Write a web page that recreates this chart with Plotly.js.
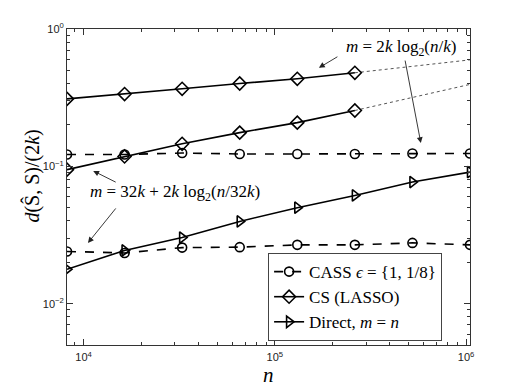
<!DOCTYPE html>
<html>
<head>
<meta charset="utf-8">
<script src="https://cdn.plot.ly/plotly-3.0.1.min.js"></script>
<style>
  html, body { margin: 0; padding: 0; background: #fff; }
  #chart { width: 518px; height: 388px; }
</style>
</head>
<body>
<div id="chart"></div>
<script>
// problem sizes n = 2^13 ... 2^20
const n = [8192, 16384, 32768, 65536, 131072, 262144, 524288, 1048576];
const nCS = n.slice(0, 6);
const nExt = [262144, 1048576];

// CASS, eps = 1 (upper) and eps = 1/8 (lower)
const cassHigh = [0.122, 0.122, 0.125, 0.123, 0.123, 0.123, 0.124, 0.124];
const cassLow = [0.0240, 0.0234, 0.0256, 0.0258, 0.0268, 0.0268, 0.0277, 0.0268];

// CS (LASSO), m = 2k log2(n/k) (upper) and m = 32k + 2k log2(n/32k) (lower)
const csHigh = [0.310, 0.336, 0.367, 0.401, 0.434, 0.480];
const csLow = [0.0946, 0.118, 0.146, 0.176, 0.208, 0.255];
// dotted extrapolation of the CS curves
const csHighExt = [0.480, 0.596];
const csLowExt = [0.255, 0.395];

// Direct, m = n
const direct = [0.0178, 0.0244, 0.0303, 0.0397, 0.0500, 0.0614, 0.0768, 0.0908];

// axis ticks
const xTickVals = [1e4, 1e5, 1e6];
const xTickText = ['10<sup>4</sup>', '10<sup>5</sup>', '10<sup>6</sup>'];
const yTickVals = [0.01, 0.1, 1];
const yTickText = ['10<sup>−2</sup>', '10<sup>−1</sup>', '10<sup>0</sup>'];

// minor ticks at 2..9 times each decade
const minorTicks = (lo, hi) => {
  const out = [];
  for (let e = lo; e <= hi; e++) {
    for (let m = 2; m <= 9; m++) out.push(m * Math.pow(10, e));
  }
  return out;
};

const black = '#000';
const serif = 'Liberation Serif, DejaVu Serif, serif';
const sans = 'Liberation Sans, Arial, sans-serif';

const traces = [
  {
    x: n, y: cassHigh, name: 'CASS <i>ϵ</i> = {1, 1/8}', legendgroup: 'cass',
    mode: 'lines+markers', line: { color: black, width: 1.6, dash: 'dash' },
    marker: { symbol: 'circle-open', size: 9, color: black, line: { width: 1.6 } }
  },
  {
    x: n, y: cassLow, name: 'cass2', legendgroup: 'cass', showlegend: false,
    mode: 'lines+markers', line: { color: black, width: 1.6, dash: 'dash' },
    marker: { symbol: 'circle-open', size: 9, color: black, line: { width: 1.6 } }
  },
  {
    x: nExt, y: csHighExt, showlegend: false, mode: 'lines',
    line: { color: '#555', width: 1, dash: 'dot' }
  },
  {
    x: nExt, y: csLowExt, showlegend: false, mode: 'lines',
    line: { color: '#555', width: 1, dash: 'dot' }
  },
  {
    x: nCS, y: csHigh, name: 'CS (LASSO)', legendgroup: 'cs',
    mode: 'lines+markers', line: { color: black, width: 1.6 },
    marker: { symbol: 'diamond-open', size: 10, color: black, line: { width: 1.6 } }
  },
  {
    x: nCS, y: csLow, name: 'cs2', legendgroup: 'cs', showlegend: false,
    mode: 'lines+markers', line: { color: black, width: 1.6 },
    marker: { symbol: 'diamond-open', size: 10, color: black, line: { width: 1.6 } }
  },
  {
    x: n, y: direct, name: 'Direct, <i>m</i> = <i>n</i>',
    mode: 'lines+markers', line: { color: black, width: 1.6 },
    marker: { symbol: 'triangle-right-open', size: 10, color: black, line: { width: 1.6 } }
  }
];

const arrow = (x, y, ax, ay) => ({
  xref: 'paper', yref: 'paper', x: x, y: y, ax: ax, ay: ay,
  text: '', showarrow: true, arrowhead: 2, arrowsize: 1.3,
  arrowwidth: 0.9, arrowcolor: '#222'
});

const axisCommon = {
  type: 'log', tickmode: 'array',
  ticks: 'inside', ticklen: 6, tickcolor: '#333',
  showline: true, mirror: 'allticks', linecolor: '#333', linewidth: 1,
  showgrid: false, zeroline: false,
  tickfont: { family: sans, size: 11, color: '#222' }
};

const layout = {
  width: 518, height: 388,
  margin: { l: 67, r: 48, t: 29, b: 43 },
  paper_bgcolor: '#fff', plot_bgcolor: '#fff',
  showlegend: true,
  xaxis: Object.assign({}, axisCommon, {
    range: [Math.log10(8192), Math.log10(1048576)],
    tickvals: xTickVals, ticktext: xTickText, ticklabelstandoff: 2,
    minor: { tickmode: 'array', tickvals: minorTicks(3, 5), ticks: 'inside', ticklen: 3, tickcolor: '#333', showgrid: false }
  }),
  yaxis: Object.assign({}, axisCommon, {
    range: [Math.log10(0.005), 0],
    tickvals: yTickVals, ticktext: yTickText,
    minor: { tickmode: 'array', tickvals: minorTicks(-3, -1), ticks: 'inside', ticklen: 3, tickcolor: '#333', showgrid: false }
  }),
  legend: {
    x: 0.499, y: 0.291, xanchor: 'left', yanchor: 'top',
    bgcolor: '#fff', bordercolor: '#444', borderwidth: 1,
    font: { family: serif, size: 17, color: black },
    itemwidth: 30, tracegroupgap: 0
  },
  annotations: [
    {
      // axis titles placed by hand to match the original positions
      xref: 'paper', yref: 'paper', x: -0.087, y: 0.536, xanchor: 'center', yanchor: 'middle',
      textangle: -90, showarrow: false,
      text: '<i>d</i>(Ŝ, S)/(2<i>k</i>)',
      font: { family: serif, size: 20, color: black }
    },
    {
      xref: 'paper', yref: 'paper', x: 0.5, y: -0.095, xanchor: 'center', yanchor: 'middle',
      showarrow: false, text: '<i>n</i>',
      font: { family: serif, size: 21, color: black }
    },
    {
      xref: 'paper', yref: 'paper', x: 0.829, y: 0.94, xanchor: 'center', yanchor: 'middle',
      showarrow: false,
      text: '<i>m</i> = 2<i>k</i> log<sub>2</sub>(<i>n</i>/<i>k</i>)',
      font: { family: serif, size: 17, color: black }
    },
    arrow(0.625, 0.877, 20, -12),
    arrow(0.878, 0.639, -16, -84),
    {
      xref: 'paper', yref: 'paper', x: 0.268, y: 0.481, xanchor: 'center', yanchor: 'middle',
      showarrow: false,
      text: '<i>m</i> = 32<i>k</i> + 2<i>k</i> log<sub>2</sub>(<i>n</i>/32<i>k</i>)',
      font: { family: serif, size: 17, color: black }
    },
    arrow(0.065, 0.551, 24, 12),
    arrow(0.052, 0.323, 29, -36)
  ]
};

Plotly.newPlot('chart', traces, layout, { displayModeBar: false, staticPlot: true });
</script>
</body>
</html>
